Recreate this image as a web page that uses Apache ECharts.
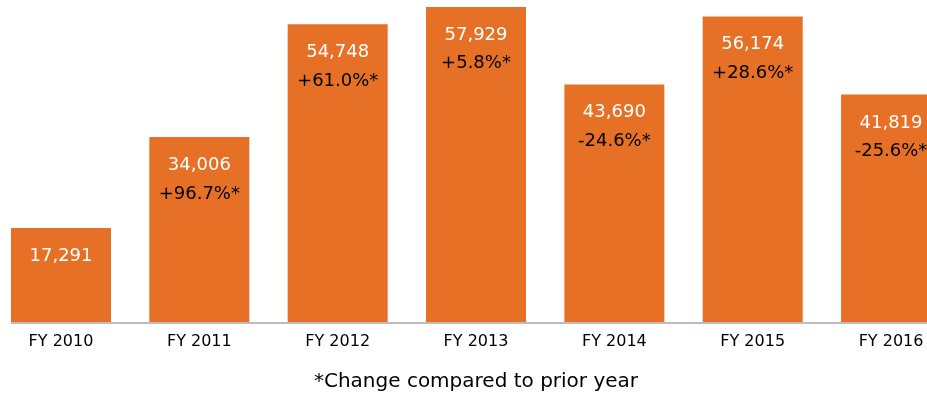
<!DOCTYPE html>
<html>
<head>
<meta charset="utf-8">
<script src="https://cdn.jsdelivr.net/npm/echarts@6/dist/echarts.min.js"></script>
<style>html,body{margin:0;padding:0;background:#fff;}#c{width:927px;height:398px;}</style>
</head>
<body>
<div id="c"></div>
<script>
var categories = ['FY 2010', 'FY 2011', 'FY 2012', 'FY 2013', 'FY 2014', 'FY 2015', 'FY 2016'];
var values = [17291, 34006, 54748, 57929, 43690, 56174, 41819];
var changes = ['', '+96.7%*', '+61.0%*', '+5.8%*', '-24.6%*', '+28.6%*', '-25.6%*'];
var footnote = '*Change compared to prior year';

var FONT = 'DejaVu Sans';
var chart = echarts.init(document.getElementById('c'), null, {renderer: 'canvas'});
chart.setOption({
  animation: false,
  backgroundColor: '#fff',
  grid: {left: -8.17, right: -33.2, top: 7, bottom: 76, outerBoundsMode: 'none', containLabel: false},
  title: {
    text: footnote,
    left: 471, top: 367, textAlign: 'center',
    textStyle: {fontFamily: FONT, fontSize: 20, fontWeight: 'normal', color: '#000'}
  },
  xAxis: {
    type: 'category', data: categories,
    axisLine: {show: false}, axisTick: {show: false},
    axisLabel: {margin: 12, fontFamily: FONT, fontSize: 16, color: '#000'}
  },
  yAxis: {type: 'value', min: 0, max: 'dataMax', show: false, splitLine: {show: false}},
  series: [{
    type: 'bar', barWidth: 100,
    data: values,
    itemStyle: {color: '#E67126'},
    label: {
      show: true, position: 'insideTop', distance: 14,
      formatter: function (p) {
        var s = '{v|' + values[p.dataIndex].toLocaleString('en-US') + '}';
        if (changes[p.dataIndex]) s += '\n{c|' + changes[p.dataIndex] + '}';
        return s;
      },
      rich: {
        v: {color: '#fff', fontFamily: FONT, fontSize: 18, lineHeight: 28.5},
        c: {color: '#000', fontFamily: FONT, fontSize: 18, lineHeight: 28.5}
      }
    }
  }]
});
var x0 = chart.convertToPixel({xAxisIndex: 0}, 0) - 50;
var y0 = chart.convertToPixel({yAxisIndex: 0}, 0);
chart.setOption({
  graphic: [{
    type: 'line', z: 10,
    shape: {x1: x0, y1: y0 + 1, x2: 927, y2: y0 + 1},
    style: {stroke: '#bdbdbd', lineWidth: 2}
  }]
});
</script>
</body>
</html>
